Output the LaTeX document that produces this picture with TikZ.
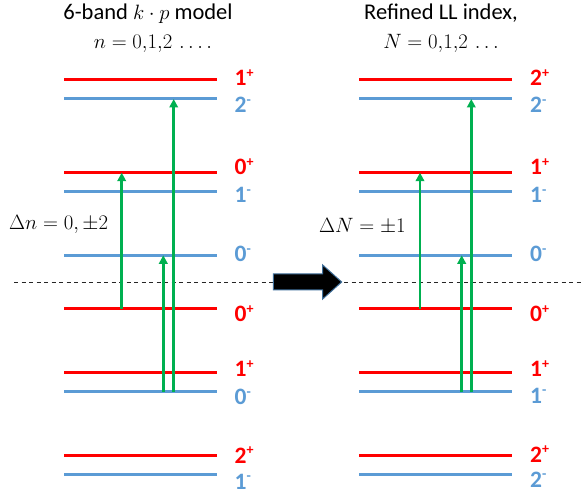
\documentclass[tikz,border=0pt]{standalone}
\usepackage{fontspec}
\newfontfamily\calib{Carlito}
\usetikzlibrary{arrows.meta}
\definecolor{lvlred}{RGB}{255,0,0}
\definecolor{lvlblue}{RGB}{91,155,213}
\definecolor{trgreen}{RGB}{0,176,80}
\definecolor{arrowedge}{RGB}{65,113,156}
\newcommand\lvlsup[1]{\raisebox{0.36em}{\fontsize{14}{14}\selectfont #1}}
\begin{document}
\begin{tikzpicture}[x=1pt,y=-1pt,
  redlvl/.style={draw=lvlred, line width=3pt},
  bluelvl/.style={draw=lvlblue, line width=3pt},
  lbl/.style={inner sep=0pt, anchor=base west, font=\calib\bfseries\fontsize{23.5}{23.5}\selectfont},
  redlbl/.style={lbl, text=lvlred},
  bluelbl/.style={lbl, text=lvlblue},
  title/.style={inner sep=0pt, anchor=base, font=\calib\fontsize{22.5}{22.5}\selectfont},
  mathlbl/.style={inner sep=0pt, anchor=base west, font=\fontsize{22.5}{22.5}\selectfont},
  trans/.style={draw=trgreen, line width=2.8pt, -{Triangle[width=8.5pt,length=8.5pt]}}]
\useasboundingbox[fill=white] (0,0) rectangle (584,494);

% titles
\node[title] (tl1) at (148,20) {6-band $k\cdot p$ model};
\node[title] (tl2) at (153,49) {\fontsize{22.5}{22.5}\selectfont$n = 0{,}1{,}2\,\ldots.$};
\node[title] (tr1) at (441,20) {Refined LL index,};
\node[title] (tr2) at (441,49) {\fontsize{22.5}{22.5}\selectfont$N = 0{,}1{,}2\,\ldots$};

% dashed Fermi line
\draw[black!85, line width=0.9pt, dash pattern=on 4pt off 3.5pt] (14,282.7) -- (584,282.7);

% left levels
\draw[redlvl]  (64,80) -- (216.5,80);
\draw[bluelvl] (64,99) -- (216.5,99);
\draw[redlvl]  (64,172.7) -- (216.5,172.7);
\draw[bluelvl] (64,191.7) -- (216.5,191.7);
\draw[bluelvl] (64,255.3) -- (216.5,255.3);
\draw[redlvl]  (64,308.7) -- (216.5,308.7);
\draw[redlvl]  (64,372.3) -- (216.5,372.3);
\draw[bluelvl] (64,392) -- (216.5,392);
\draw[redlvl]  (64,455.3) -- (216.5,455.3);
\draw[bluelvl] (64,474.3) -- (216.5,474.3);

% right levels
\draw[redlvl]  (359,80) -- (511.5,80);
\draw[bluelvl] (359,99) -- (511.5,99);
\draw[redlvl]  (359,172.7) -- (511.5,172.7);
\draw[bluelvl] (359,191.7) -- (511.5,191.7);
\draw[bluelvl] (359,255.3) -- (511.5,255.3);
\draw[redlvl]  (359,308.7) -- (511.5,308.7);
\draw[redlvl]  (359,372.3) -- (511.5,372.3);
\draw[bluelvl] (359,392) -- (511.5,392);
\draw[redlvl]  (359,455.3) -- (511.5,455.3);
\draw[bluelvl] (359,474.3) -- (511.5,474.3);

% left labels
\node[redlbl]  (la1) at (234.5,86)    {1\lvlsup{+}};
\node[bluelbl] (la2) at (234.5,113)   {2\lvlsup{-}};
\node[redlbl]  (la3) at (234.5,175)   {0\lvlsup{+}};
\node[bluelbl] (la4) at (234.5,203)   {1\lvlsup{-}};
\node[bluelbl] (la5) at (234.5,262)   {0\lvlsup{-}};
\node[redlbl]  (la6) at (234.5,321.7) {0\lvlsup{+}};
\node[redlbl]  (la7) at (234.5,376.7) {1\lvlsup{+}};
\node[bluelbl] (la8) at (234.5,405)   {0\lvlsup{-}};
\node[redlbl]  (la9) at (234.5,463)   {2\lvlsup{+}};
\node[bluelbl] (la10) at (234.5,489)  {1\lvlsup{-}};

% right labels
\node[redlbl]  (ra1) at (530,86)    {2\lvlsup{+}};
\node[bluelbl] (ra2) at (530,113)   {2\lvlsup{-}};
\node[redlbl]  (ra3) at (530,175)   {1\lvlsup{+}};
\node[bluelbl] (ra4) at (530,203)   {1\lvlsup{-}};
\node[bluelbl] (ra5) at (530,262)   {0\lvlsup{-}};
\node[redlbl]  (ra6) at (530,321.7) {0\lvlsup{+}};
\node[redlbl]  (ra7) at (530,376.7) {1\lvlsup{+}};
\node[bluelbl] (ra8) at (530,403)   {1\lvlsup{-}};
\node[redlbl]  (ra9) at (530,462)   {2\lvlsup{+}};
\node[bluelbl] (ra10) at (530,487)  {2\lvlsup{-}};

% selection rule labels
\node[mathlbl] (dn) at (9,230) {$\Delta n = 0, \pm 2$};
\node[mathlbl] (dN) at (319,233) {$\Delta N = \pm 1$};

% transition coordinates
\coordinate (a1s) at (121.7,308.7); \coordinate (a1e) at (121.7,172.7);
\coordinate (a2s) at (163.3,392);   \coordinate (a2e) at (163.3,255.3);
\coordinate (a3s) at (173.7,392);   \coordinate (a3e) at (173.7,99);
\coordinate (b1s) at (420,308.7);   \coordinate (b1e) at (420,172.7);
\coordinate (b2s) at (461.7,392);   \coordinate (b2e) at (461.7,255.3);
\coordinate (b3s) at (471.3,392);   \coordinate (b3e) at (471.3,99);
\draw[trans] (a1s) -- (a1e);
\draw[trans] (a2s) -- (a2e);
\draw[trans] (a3s) -- (a3e);
\draw[trans] (b1s) -- (b1e);
\draw[trans] (b2s) -- (b2e);
\draw[trans] (b3s) -- (b3e);

% block arrow
\draw[fill=black, draw=arrowedge, line width=1pt]
  (273.3,274) -- (322.7,274) -- (322.7,265) -- (341.7,282) -- (322.7,299)
  -- (322.7,290) -- (273.3,290) -- cycle;
\end{tikzpicture}
\end{document}
